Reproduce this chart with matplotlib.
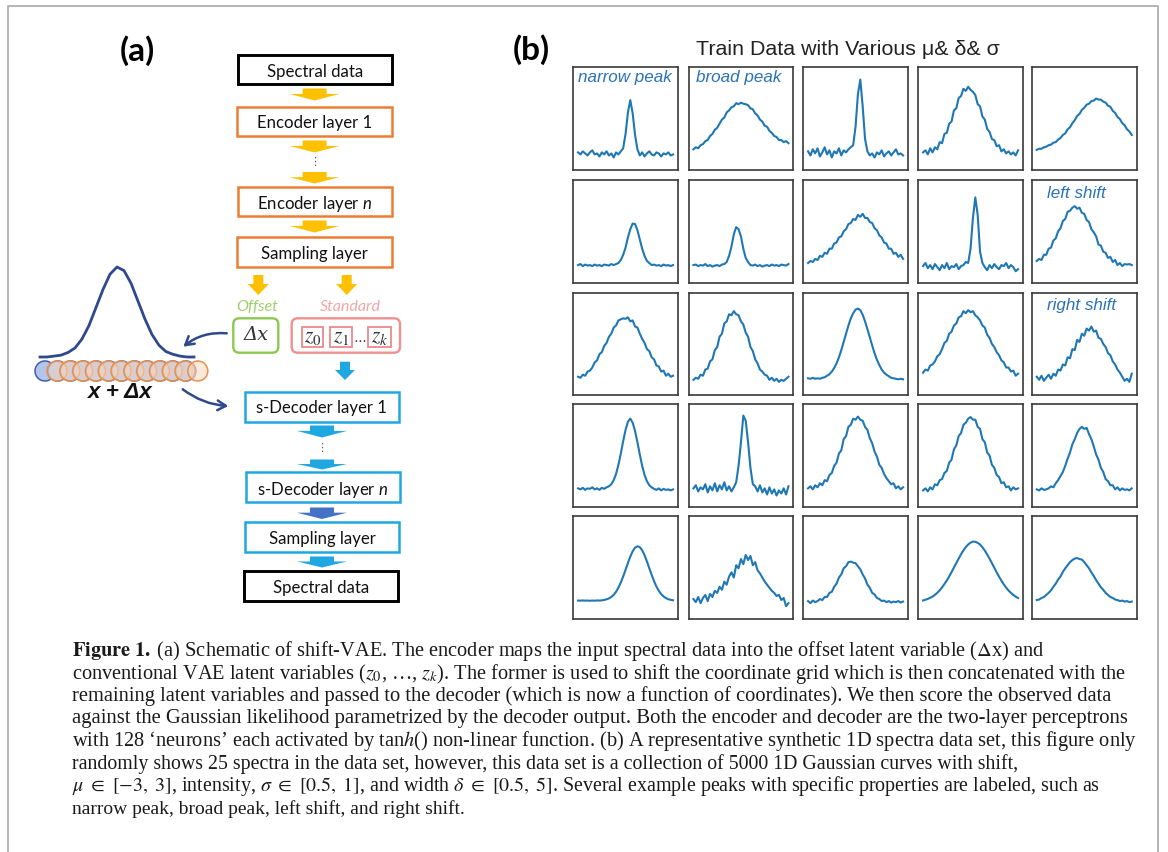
import matplotlib
matplotlib.use("Agg")
import matplotlib.pyplot as plt
from matplotlib.patches import Rectangle, FancyBboxPatch, Polygon, Circle, FancyArrowPatch
import numpy as np

plt.rcParams["mathtext.fontset"] = "custom"
plt.rcParams["mathtext.rm"] = "Lato"
plt.rcParams["mathtext.it"] = "Lato:italic"
plt.rcParams["mathtext.bf"] = "Lato:bold"

# ---- panel (b): 25 spectra, heights (fraction of panel height) ----
r1c1 = [0.17, 0.15, 0.18, 0.16, 0.14, 0.17, 0.19, 0.15, 0.16, 0.13, 0.17, 0.15, 0.18, 0.14,
        0.16, 0.12, 0.17, 0.15, 0.18, 0.21, 0.35, 0.56, 0.68, 0.55, 0.34, 0.20, 0.14, 0.17,
        0.13, 0.16, 0.18, 0.15, 0.14, 0.17, 0.16, 0.13, 0.16, 0.15, 0.17, 0.14, 0.15]
r1c2 = [0.20, 0.22, 0.21, 0.24, 0.25, 0.28, 0.29, 0.33, 0.35, 0.39, 0.41, 0.45, 0.49, 0.51,
        0.56, 0.58, 0.61, 0.62, 0.65, 0.64, 0.655, 0.645, 0.64, 0.63, 0.60, 0.59, 0.55, 0.53,
        0.49, 0.47, 0.43, 0.42, 0.38, 0.36, 0.33, 0.32, 0.29, 0.29, 0.27, 0.28, 0.26]
r1c3 = [0.18, 0.14, 0.20, 0.16, 0.21, 0.13, 0.17, 0.22, 0.15, 0.19, 0.12, 0.18, 0.16, 0.21,
        0.14, 0.19, 0.17, 0.20, 0.22, 0.24, 0.42, 0.74, 0.88, 0.62, 0.30, 0.18, 0.14, 0.16,
        0.12, 0.17, 0.15, 0.19, 0.13, 0.16, 0.18, 0.14, 0.17, 0.20, 0.15, 0.16, 0.14]
r1c4 = [0.17, 0.19, 0.15, 0.21, 0.17, 0.22, 0.20, 0.27, 0.26, 0.35, 0.36, 0.45, 0.47, 0.58,
        0.60, 0.70, 0.72, 0.79, 0.77, 0.81, 0.78, 0.76, 0.73, 0.64, 0.62, 0.52, 0.49, 0.40,
        0.37, 0.30, 0.29, 0.23, 0.24, 0.18, 0.20, 0.16, 0.18, 0.15, 0.17, 0.14, 0.19]
r1c5 = [0.195, 0.205, 0.205, 0.22, 0.225, 0.24, 0.245, 0.265, 0.27, 0.295, 0.31, 0.34, 0.355,
        0.395, 0.415, 0.455, 0.485, 0.525, 0.545, 0.585, 0.605, 0.635, 0.645, 0.67, 0.675,
        0.695, 0.685, 0.685, 0.665, 0.655, 0.625, 0.615, 0.575, 0.555, 0.515, 0.495, 0.455,
        0.435, 0.395, 0.375, 0.34]
r2c1 = [0.17, 0.18, 0.16, 0.175, 0.165, 0.17, 0.16, 0.175, 0.165, 0.17, 0.16, 0.175, 0.17,
        0.165, 0.18, 0.17, 0.18, 0.19, 0.22, 0.27, 0.34, 0.44, 0.52, 0.575, 0.57, 0.51, 0.42,
        0.33, 0.26, 0.21, 0.19, 0.17, 0.175, 0.165, 0.17, 0.16, 0.175, 0.165, 0.17, 0.16, 0.17]
r2c2 = [0.17, 0.175, 0.16, 0.17, 0.165, 0.18, 0.16, 0.17, 0.155, 0.165, 0.17, 0.16, 0.175,
        0.18, 0.20, 0.26, 0.35, 0.47, 0.54, 0.52, 0.45, 0.33, 0.24, 0.20, 0.17, 0.165, 0.175,
        0.16, 0.17, 0.155, 0.165, 0.17, 0.16, 0.175, 0.165, 0.17, 0.16, 0.175, 0.17, 0.165, 0.18]
r2c3 = [0.19, 0.21, 0.20, 0.23, 0.22, 0.26, 0.25, 0.29, 0.28, 0.33, 0.33, 0.38, 0.39, 0.44,
        0.45, 0.50, 0.52, 0.57, 0.58, 0.62, 0.61, 0.66, 0.64, 0.67, 0.63, 0.63, 0.59, 0.58,
        0.53, 0.51, 0.46, 0.44, 0.39, 0.38, 0.33, 0.33, 0.28, 0.29, 0.25, 0.27, 0.23]
r2c4 = [0.16, 0.19, 0.14, 0.17, 0.13, 0.18, 0.15, 0.12, 0.17, 0.14, 0.19, 0.13, 0.16, 0.15,
        0.18, 0.13, 0.16, 0.17, 0.20, 0.19, 0.33, 0.63, 0.83, 0.66, 0.30, 0.19, 0.15, 0.12,
        0.17, 0.14, 0.18, 0.15, 0.13, 0.17, 0.16, 0.19, 0.14, 0.17, 0.15, 0.11, 0.13]
r2c5 = [0.21, 0.23, 0.22, 0.27, 0.27, 0.33, 0.34, 0.41, 0.43, 0.50, 0.53, 0.60, 0.62, 0.69,
        0.70, 0.73, 0.745, 0.72, 0.73, 0.68, 0.67, 0.61, 0.59, 0.52, 0.49, 0.45, 0.37, 0.36,
        0.30, 0.29, 0.24, 0.25, 0.20, 0.22, 0.17, 0.19, 0.16, 0.18, 0.175, 0.18, 0.17]
r3c1 = [0.18, 0.17, 0.20, 0.19, 0.23, 0.24, 0.27, 0.32, 0.34, 0.40, 0.42, 0.48, 0.51, 0.57,
        0.60, 0.66, 0.68, 0.73, 0.74, 0.75, 0.745, 0.76, 0.72, 0.73, 0.67, 0.66, 0.60, 0.55,
        0.51, 0.45, 0.43, 0.37, 0.35, 0.29, 0.28, 0.23, 0.24, 0.19, 0.21, 0.18, 0.19]
r3c2 = [0.15, 0.17, 0.16, 0.20, 0.19, 0.25, 0.26, 0.33, 0.35, 0.44, 0.47, 0.57, 0.60, 0.70,
        0.72, 0.79, 0.78, 0.82, 0.79, 0.78, 0.72, 0.69, 0.61, 0.57, 0.47, 0.43, 0.35, 0.31,
        0.25, 0.23, 0.20, 0.19, 0.15, 0.17, 0.14, 0.16, 0.13, 0.15, 0.14, 0.16, 0.18]
r3c3 = [0.165, 0.16, 0.17, 0.16, 0.165, 0.16, 0.17, 0.175, 0.19, 0.205, 0.23, 0.265, 0.31,
        0.37, 0.44, 0.52, 0.60, 0.68, 0.75, 0.80, 0.835, 0.845, 0.83, 0.785, 0.72, 0.645,
        0.565, 0.485, 0.41, 0.345, 0.295, 0.25, 0.22, 0.20, 0.185, 0.17, 0.165, 0.16, 0.155,
        0.16, 0.155]
r3c4 = [0.22, 0.25, 0.24, 0.29, 0.30, 0.33, 0.38, 0.40, 0.45, 0.51, 0.53, 0.60, 0.62, 0.68,
        0.70, 0.76, 0.77, 0.82, 0.80, 0.83, 0.81, 0.82, 0.78, 0.76, 0.73, 0.68, 0.66, 0.59,
        0.56, 0.50, 0.47, 0.42, 0.39, 0.34, 0.32, 0.27, 0.27, 0.23, 0.24, 0.19, 0.21]
r3c5 = [0.18, 0.15, 0.19, 0.14, 0.17, 0.20, 0.16, 0.21, 0.19, 0.25, 0.24, 0.30, 0.29, 0.37,
        0.36, 0.45, 0.44, 0.54, 0.52, 0.60, 0.58, 0.65, 0.63, 0.67, 0.62, 0.63, 0.56, 0.55,
        0.50, 0.47, 0.41, 0.39, 0.33, 0.30, 0.25, 0.22, 0.18, 0.14, 0.16, 0.13, 0.21]
r4c1 = [0.18, 0.17, 0.185, 0.165, 0.18, 0.175, 0.19, 0.17, 0.18, 0.165, 0.185, 0.175, 0.19,
        0.20, 0.22, 0.26, 0.32, 0.41, 0.52, 0.64, 0.75, 0.83, 0.86, 0.82, 0.74, 0.63, 0.51,
        0.40, 0.31, 0.25, 0.21, 0.19, 0.175, 0.165, 0.18, 0.16, 0.175, 0.165, 0.17, 0.16, 0.17]
r4c2 = [0.18, 0.21, 0.15, 0.19, 0.17, 0.22, 0.14, 0.20, 0.16, 0.23, 0.15, 0.21, 0.17, 0.24,
        0.16, 0.20, 0.15, 0.19, 0.24, 0.40, 0.63, 0.89, 0.84, 0.63, 0.38, 0.22, 0.20, 0.15,
        0.21, 0.14, 0.18, 0.12, 0.19, 0.13, 0.17, 0.11, 0.16, 0.13, 0.18, 0.12, 0.20]
r4c3 = [0.18, 0.20, 0.17, 0.21, 0.19, 0.23, 0.21, 0.26, 0.25, 0.31, 0.33, 0.40, 0.43, 0.52,
        0.55, 0.66, 0.69, 0.78, 0.80, 0.86, 0.85, 0.88, 0.85, 0.84, 0.78, 0.75, 0.67, 0.62,
        0.54, 0.49, 0.41, 0.38, 0.32, 0.28, 0.25, 0.22, 0.23, 0.18, 0.20, 0.17, 0.19]
r4c4 = [0.16, 0.18, 0.15, 0.19, 0.17, 0.22, 0.21, 0.26, 0.27, 0.33, 0.35, 0.43, 0.46, 0.56,
        0.60, 0.69, 0.72, 0.80, 0.82, 0.86, 0.875, 0.85, 0.85, 0.78, 0.76, 0.66, 0.63, 0.53,
        0.50, 0.41, 0.38, 0.31, 0.29, 0.23, 0.24, 0.19, 0.20, 0.16, 0.19, 0.17, 0.18]
r4c5 = [0.17, 0.16, 0.18, 0.165, 0.17, 0.18, 0.20, 0.19, 0.23, 0.26, 0.30, 0.34, 0.40, 0.47,
        0.53, 0.61, 0.66, 0.72, 0.76, 0.78, 0.76, 0.77, 0.71, 0.66, 0.59, 0.51, 0.46, 0.38,
        0.34, 0.27, 0.25, 0.21, 0.21, 0.17, 0.19, 0.16, 0.18, 0.165, 0.17, 0.16, 0.18]
r5c1 = [0.175, 0.174, 0.176, 0.174, 0.175, 0.173, 0.175, 0.174, 0.176, 0.175, 0.177, 0.181,
        0.187, 0.196, 0.21, 0.231, 0.261, 0.301, 0.351, 0.41, 0.475, 0.541, 0.604, 0.656,
        0.691, 0.705, 0.696, 0.666, 0.617, 0.557, 0.49, 0.425, 0.364, 0.312, 0.27, 0.238,
        0.215, 0.199, 0.188, 0.182, 0.178]
r5c2 = [0.19, 0.16, 0.21, 0.15, 0.20, 0.23, 0.17, 0.24, 0.21, 0.27, 0.25, 0.31, 0.28, 0.36,
        0.33, 0.41, 0.45, 0.40, 0.52, 0.49, 0.58, 0.53, 0.62, 0.57, 0.61, 0.52, 0.55, 0.47,
        0.44, 0.40, 0.36, 0.33, 0.30, 0.27, 0.25, 0.22, 0.23, 0.18, 0.20, 0.12, 0.15]
r5c3 = [0.17, 0.15, 0.175, 0.16, 0.17, 0.19, 0.18, 0.21, 0.21, 0.25, 0.26, 0.31, 0.34, 0.40,
        0.43, 0.49, 0.51, 0.55, 0.555, 0.545, 0.54, 0.51, 0.48, 0.43, 0.39, 0.33, 0.30, 0.25,
        0.235, 0.20, 0.19, 0.17, 0.175, 0.16, 0.17, 0.155, 0.165, 0.16, 0.17, 0.155, 0.165]
r5c4 = [0.176, 0.183, 0.191, 0.202, 0.214, 0.231, 0.251, 0.275, 0.303, 0.336, 0.371, 0.411,
        0.453, 0.497, 0.541, 0.585, 0.627, 0.664, 0.697, 0.722, 0.74, 0.75, 0.749, 0.738,
        0.722, 0.695, 0.663, 0.625, 0.583, 0.54, 0.495, 0.45, 0.408, 0.369, 0.333, 0.301,
        0.273, 0.25, 0.23, 0.213, 0.20]
r5c5 = [0.18, 0.185, 0.20, 0.21, 0.23, 0.25, 0.275, 0.31, 0.34, 0.38, 0.41, 0.455, 0.49, 0.52,
        0.55, 0.57, 0.585, 0.59, 0.58, 0.575, 0.55, 0.52, 0.49, 0.45, 0.415, 0.375, 0.34,
        0.305, 0.28, 0.25, 0.23, 0.21, 0.20, 0.185, 0.18, 0.17, 0.175, 0.165, 0.17, 0.16, 0.165]

grid = [[r1c1, r1c2, r1c3, r1c4, r1c5],
        [r2c1, r2c2, r2c3, r2c4, r2c5],
        [r3c1, r3c2, r3c3, r3c4, r3c5],
        [r4c1, r4c2, r4c3, r4c4, r4c5],
        [r5c1, r5c2, r5c3, r5c4, r5c5]]

label_text = ["narrow peak", "broad peak", "left shift", "right shift"]
label_cell = [(0, 0), (0, 1), (1, 4), (2, 4)]
title_b = "Train Data with Various \u03bc& \u03b4& \u03c3"

# schematic bell curve heights (fraction of its height)
bell_h = [0.00, 0.00, 0.01, 0.02, 0.05, 0.10, 0.20, 0.35, 0.55, 0.75, 0.92, 1.00,
          0.96, 0.82, 0.62, 0.42, 0.25, 0.13, 0.06, 0.03, 0.01, 0.00, 0.00]

caption = [
    r"$\mathbf{Figure\ 1.}\;$(a) Schematic of shift-VAE. The encoder maps the input spectral data into the offset latent variable ($\Delta$x) and",
    r"conventional VAE latent variables ($z_0$, …, $z_k$). The former is used to shift the coordinate grid which is then concatenated with the",
    "remaining latent variables and passed to the decoder (which is now a function of coordinates). We then score the observed data",
    "against the Gaussian likelihood parametrized by the decoder output. Both the encoder and decoder are the two-layer perceptrons",
    r"with 128 ‘neurons’ each activated by tan$h$() non-linear function. (b) A representative synthetic 1D spectra data set, this figure only",
    "randomly shows 25 spectra in the data set, however, this data set is a collection of 5000 1D Gaussian curves with shift,",
    r"$\mu\ \in\ [-3,\;3]$, intensity, $\sigma\ \in\ [0.5,\;1]$, and width $\delta\ \in\ [0.5,\;5]$. Several example peaks with specific properties are labeled, such as",
    "narrow peak, broad peak, left shift, and right shift.",
]

W, H = 1168, 852
fig = plt.figure(figsize=(W / 100, H / 100), dpi=100)
ax0 = fig.add_axes([0, 0, 1, 1])
ax0.set_xlim(0, W)
ax0.set_ylim(H, 0)
ax0.axis("off")
rend = fig.canvas.get_renderer()


def fit(s, target, **kw):
    t = ax0.text(0, 0, s, fontsize=10, **kw)
    w = t.get_window_extent(renderer=rend).width
    t.remove()
    return 10 * target / w


def box(x0, y0, x1, y1, color, lw=1.8, rounded=False):
    if rounded:
        p = FancyBboxPatch((x0, y0), x1 - x0, y1 - y0, boxstyle="round,pad=0,rounding_size=6",
                           fc="none", ec=color, lw=lw)
    else:
        p = Rectangle((x0, y0), x1 - x0, y1 - y0, fc="none", ec=color, lw=lw)
    ax0.add_patch(p)


def down_arrow(cx, y0, y1, color, shaft=24, head=50):
    ym = y0 + 0.45 * (y1 - y0)
    pts = [(cx - shaft / 2, y0), (cx + shaft / 2, y0), (cx + shaft / 2, ym), (cx + head / 2, ym),
           (cx, y1), (cx - head / 2, ym), (cx - shaft / 2, ym)]
    ax0.add_patch(Polygon(pts, closed=True, fc=color, ec="none"))


# outer frame
ax0.plot([8, 8, 1158, 1158], [H, 6, 6, H], color="#b4b4b4", lw=1.4)

# ---- (a) schematic ----
lab_fs = fit("(a)", 35, family="Lato", weight="bold")
ax0.text(137.5, 51, "(a)", fontsize=lab_fs, family="Lato", weight="bold", ha="center", va="center")
ax0.text(531.5, 50, "(b)", fontsize=lab_fs, family="Lato", weight="bold", ha="center", va="center")

yellow, orange, blue, dblue = "#ffc000", "#ed7d31", "#1ea7e1", "#4472c4"
box_fs = fit("s-Decoder layer 1", 131, family="Lato")
kw = dict(fontsize=box_fs, family="Lato", ha="center", va="center_baseline", color="#111111")

box(237.7, 55, 391.7, 84, "black", lw=2.1)
ax0.text(314.7, 70, "Spectral data", **kw)
down_arrow(314.6, 88.5, 100.5, yellow)
box(237.3, 106.7, 391.7, 136, orange)
ax0.text(314.5, 121.5, "Encoder layer 1", **kw)
down_arrow(314.6, 140.5, 152.5, yellow)
ax0.text(314.6, 162, "\u22ee", fontsize=8, family="DejaVu Sans", ha="center", va="center", color="#555555")
down_arrow(314.6, 172, 183.5, yellow)
box(237.7, 187.3, 392.3, 216, orange)
ax0.text(315, 202, "Encoder layer $n$", math_fontfamily="custom", **kw)
down_arrow(314.6, 220.5, 232.5, yellow)
box(237.3, 237.3, 391.7, 266.7, orange)
ax0.text(314.5, 252.5, "Sampling layer", **kw)
down_arrow(258.3, 275, 295, yellow, shaft=10, head=21)
down_arrow(346.7, 275, 295, yellow, shaft=10, head=21)

tag_fs = fit("Standard", 61, family="Lato", style="italic")
ax0.text(256.7, 307, "Offset", fontsize=tag_fs, family="Lato", style="italic", color="#9dcf6a",
         ha="center", va="center")
ax0.text(350, 307, "Standard", fontsize=tag_fs, family="Lato", style="italic", color="#f2a7a6",
         ha="center", va="center")
box(233.3, 318.3, 278.3, 352.7, "#8cc751", lw=1.7, rounded=True)
ax0.text(255.8, 335.5, "\u0394x", fontsize=14, family="DejaVu Serif", style="italic",
         ha="center", va="center", color="#333333")
box(291.7, 318.3, 400, 352.7, "#f0908f", lw=1.7, rounded=True)
for x0, x1, s in [(301.7, 323.3, "$z_0$"), (330, 351.7, "$z_1$"), (368.3, 390.7, "$z_k$")]:
    box(x0, 326.7, x1, 346.7, "#ec8a89", lw=1.3)
    ax0.text((x0 + x1) / 2, 337, s, fontsize=15.5, math_fontfamily="stix", ha="center",
             va="center", color="#333333")
ax0.text(360, 339, r"$\cdots$", fontsize=10, math_fontfamily="stix", ha="center", va="center",
         color="#333333")

down_arrow(345, 361.7, 380, blue, shaft=10, head=20)
box(245, 391.7, 399, 421.7, blue)
ax0.text(322, 407, "s-Decoder layer 1", **kw)
down_arrow(322, 425.5, 437.5, blue)
ax0.text(322, 448, "\u22ee", fontsize=8, family="DejaVu Sans", ha="center", va="center", color="#555555")
down_arrow(322, 459.5, 469.5, blue)
box(245.7, 472.3, 400, 502.3, blue)
ax0.text(322.8, 487.5, "s-Decoder layer $n$", math_fontfamily="custom", **kw)
down_arrow(322, 507.5, 519, dblue)
box(245, 522.3, 399, 551.7, blue)
ax0.text(322, 537.3, "Sampling layer", **kw)
down_arrow(322, 556.5, 567.5, blue)
box(244, 571, 398.3, 601, "black", lw=2.1)
ax0.text(321.2, 586.3, "Spectral data", **kw)

# bell curve and coordinate grid
navy = "#2f4a8c"
bx = np.linspace(40, 194, len(bell_h))
ax0.plot(bx, 357 - 90 * np.array(bell_h), color=navy, lw=2.0, solid_joinstyle="round")
for k in range(12):
    ax0.add_patch(Circle((45 + 12.8 * k, 371), 10, fc="#b3c5ea", ec="#3d5fab", lw=1.1))
for k in range(12):
    ax0.add_patch(Circle((57 + 12.8 * k, 371), 10, fc=(0.97, 0.84, 0.74, 0.55),
                         ec="#e8904d", lw=1.1))
xd_fs = fit("x + \u0394x", 65, family="Liberation Sans", weight="bold", style="italic")
ax0.text(120.8, 392, "x + \u0394x", fontsize=xd_fs, family="Liberation Sans", weight="bold",
         style="italic", ha="center", va="center", color="#111111")
for a, b, rad in [((226.7, 333.3), (183.3, 346.7), 0.2), ((182.7, 389.3), (228.3, 406), 0.15)]:
    ax0.add_patch(FancyArrowPatch(a, b, connectionstyle=f"arc3,rad={rad}",
                                  arrowstyle="->,head_length=6,head_width=3.5",
                                  color=navy, lw=1.8, shrinkA=0, shrinkB=0))

# ---- (b) grid of spectra ----
title_fs = fit(title_b, 305, family="Liberation Sans")
ax0.text(847.5, 55, title_b, fontsize=title_fs, family="Liberation Sans", ha="center",
         va="baseline", color="#222222")

col_left = [573.3, 688.7, 803.3, 918.3, 1032.0]
row_top = [67.3, 180.0, 292.7, 404.3, 516.0]
pw, ph = 104.5, 102.5
label_xy = [(0.49, 0.905), (0.48, 0.905), (0.42, 0.87), (0.47, 0.873)]
lab2_fs = fit("narrow peak", 94, family="Liberation Sans", style="italic")
axes = {}
for r in range(5):
    for c in range(5):
        ax = fig.add_axes([col_left[c] / W, 1 - (row_top[r] + ph) / H, pw / W, ph / H])
        y = grid[r][c]
        ax.plot(np.linspace(0, 1, len(y)), y, color="#1f77b4", lw=1.5)
        ax.set_ylim(0, 1)
        ax.set_xticks([])
        ax.set_yticks([])
        for sp in ax.spines.values():
            sp.set_color("#3a3a3a")
            sp.set_linewidth(1.2)
        axes[(r, c)] = ax
for s, cell, (lx, ly) in zip(label_text, label_cell, label_xy):
    axes[cell].text(lx, ly, s, transform=axes[cell].transAxes, fontsize=lab2_fs,
                    family="Liberation Sans", style="italic", color="#2a72b8",
                    ha="center", va="center")

# ---- caption ----
cap_x0 = 72
cap_end = [1041.7, 1129.3, 1115, 1131.7, 1136.7, 1020, 1100.7, 464]
for i, (s, xe) in enumerate(zip(caption, cap_end)):
    fs = fit(s, xe - cap_x0, family="Liberation Serif", math_fontfamily="stix")
    ax0.text(cap_x0, 656 + 22.5 * i, s, fontsize=fs, family="Liberation Serif",
             math_fontfamily="stix", ha="left", va="baseline", color="#1a1a1a")

fig.savefig("out.png", dpi=100)
